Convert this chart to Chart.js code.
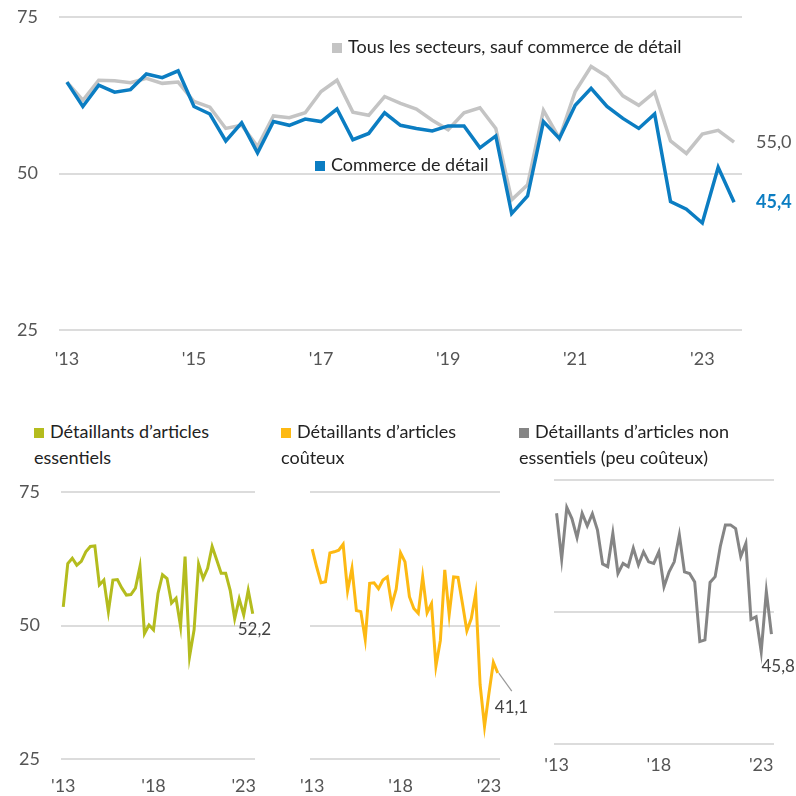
<!DOCTYPE html>
<html lang="fr">
<head>
<meta charset="utf-8">
<title>Commerce de détail</title>
<script src="https://cdn.jsdelivr.net/npm/chart.js@4.4.1/dist/chart.umd.min.js"></script>
<style>
  html, body { margin: 0; padding: 0; background: #fff; }
  #page { position: relative; width: 796px; height: 796px; overflow: hidden; font-family: Lato, sans-serif; color: #222; }
  canvas { position: absolute; }
  .leg { position: absolute; white-space: nowrap; line-height: 26px; }
  .sq { display: inline-block; width: 10px; height: 10px; margin-right: 6px; vertical-align: 0; }
</style>
</head>
<body>
<div id="page">
  <canvas id="principal" width="796" height="380" style="left:0;top:0"></canvas>
  <canvas id="p1" width="285" height="326" style="left:0;top:470px"></canvas>
  <canvas id="p2" width="275" height="326" style="left:265px;top:470px"></canvas>
  <canvas id="p3" width="276" height="338" style="left:520px;top:458px"></canvas>

  <div class="leg" style="left:332px;top:33px;font-size:18px"><span class="sq" style="background:#c4c4c4"></span>Tous les secteurs, sauf commerce de détail</div>
  <div class="leg" style="left:315px;top:151px;font-size:18px"><span class="sq" style="background:#0b7dc2"></span>Commerce de détail</div>
  <div class="leg" style="left:34px;top:418px;font-size:18px"><span class="sq" style="background:#b4bc1e"></span>Détaillants d’articles<br>essentiels</div>
  <div class="leg" style="left:281px;top:418px;font-size:18px"><span class="sq" style="background:#fdb913"></span>Détaillants d’articles<br>coûteux</div>
  <div class="leg" style="left:519px;top:418px;font-size:18px"><span class="sq" style="background:#858585"></span>Détaillants d’articles non<br>essentiels (peu coûteux)</div>
</div>

<script>
// Trimestres de 2013T1 à 2023T3
const trimestres = [
  '2013T1','2013T2','2013T3','2013T4','2014T1','2014T2','2014T3','2014T4',
  '2015T1','2015T2','2015T3','2015T4','2016T1','2016T2','2016T3','2016T4',
  '2017T1','2017T2','2017T3','2017T4','2018T1','2018T2','2018T3','2018T4',
  '2019T1','2019T2','2019T3','2019T4','2020T1','2020T2','2020T3','2020T4',
  '2021T1','2021T2','2021T3','2021T4','2022T1','2022T2','2022T3','2022T4',
  '2023T1','2023T2','2023T3'
];

// Graphique principal
const commerceDetail = [
  64.6, 60.7, 64.1, 63.0, 63.4, 65.9, 65.3, 66.4, 60.7, 59.5, 55.2, 58.1, 53.3, 58.3, 57.7,
  58.7, 58.3, 60.3, 55.4, 56.4, 59.7, 57.7, 57.2, 56.8, 57.6, 57.6, 54.1, 56.0, 43.6,
  46.4, 58.3, 55.6, 60.9, 63.6, 60.7, 58.8, 57.2, 59.5, 45.5, 44.3, 42.1, 51.0, 45.4
];
const autresSecteurs = [
  64.6, 61.7, 64.9, 64.8, 64.5, 65.2, 64.4, 64.6, 61.5, 60.6, 57.2, 57.7, 54.3, 59.2, 58.9,
  59.7, 63.1, 64.9, 59.8, 59.3, 62.3, 61.2, 60.3, 58.5, 57.0, 59.7, 60.5, 57.2, 45.8,
  48.2, 60.1, 55.6, 63.1, 67.1, 65.5, 62.4, 60.9, 63.0, 55.2, 53.2, 56.3, 56.9, 55.0
];

// Petits graphiques
const articlesEssentiels = [
  53.5, 61.6, 62.6, 61.3, 62.0, 63.8, 64.8, 64.9, 57.6, 58.5, 52.6, 58.5, 58.6, 57.0, 55.7,
  55.8, 57.0, 61.0, 48.5, 50.1, 49.2, 56.0, 59.5, 58.8, 54.2, 55.1, 49.8, 62.9, 44.2,
  49.2, 61.5, 58.8, 60.7, 64.8, 62.3, 59.8, 59.8, 56.6, 51.3, 55.0, 52.0, 56.6, 52.2
];
const articlesCouteux = [
  64.3, 61.0, 58.0, 58.2, 63.6, 63.8, 64.1, 65.2, 56.5, 60.7, 52.8, 52.6, 47.4, 57.9, 58.0,
  56.9, 58.5, 59.1, 53.8, 56.8, 63.6, 61.9, 55.4, 53.2, 52.3, 59.1, 52.4, 54.1, 42.4,
  47.2, 60.4, 52.0, 59.1, 59.0, 54.1, 49.0, 51.3, 56.0, 38.9, 31.1, 37.3, 43.1, 41.1
];
const articlesNonEssentiels = [
  68.7, 60.0, 69.8, 67.7, 64.1, 68.7, 66.3, 68.6, 65.5, 59.1, 58.6, 64.9, 57.3, 59.2, 58.6,
  62.1, 58.9, 61.4, 59.5, 59.2, 61.4, 54.8, 57.6, 59.5, 64.6, 57.6, 57.3, 55.7, 44.4,
  44.7, 55.6, 56.7, 62.4, 66.5, 66.5, 65.8, 60.5, 63.0, 48.6, 49.1, 42.5, 53.9, 45.8
];

Chart.defaults.font.family = 'Lato, sans-serif';
Chart.defaults.font.size = 18;
Chart.defaults.color = '#555';

// Étiquette de la dernière valeur de chaque série
const etiquetteFin = {
  id: 'etiquetteFin',
  afterDatasetsDraw(chart, args, opts) {
    const ctx = chart.ctx;
    (opts.items || []).forEach(it => {
      const meta = chart.getDatasetMeta(it.dataset);
      const pt = meta.data[meta.data.length - 1];
      const valeurs = chart.data.datasets[it.dataset].data;
      const texte = valeurs[valeurs.length - 1].toFixed(1).replace('.', ',');
      ctx.save();
      if (it.trait) {
        ctx.strokeStyle = '#999';
        ctx.lineWidth = 1.2;
        ctx.beginPath();
        ctx.moveTo(pt.x + it.trait[0], pt.y + it.trait[1]);
        ctx.lineTo(pt.x + it.trait[2], pt.y + it.trait[3]);
        ctx.stroke();
      }
      ctx.font = (it.gras ? 'bold ' : '') + it.taille + 'px Lato, sans-serif';
      ctx.fillStyle = it.couleur;
      ctx.textAlign = 'left';
      ctx.textBaseline = 'middle';
      ctx.fillText(texte, pt.x + it.dx, pt.y + it.dy);
      ctx.restore();
    });
  }
};

function axeY(largeur, montrer) {
  return {
    min: 25, max: 75,
    afterFit: s => {
      s.width = largeur;
      // pas de marge ajoutée pour les étiquettes : la zone est réglée par layout.padding
      s.paddingTop = 0;
      s.paddingBottom = 0;
    },
    border: { display: false },
    grid: { color: '#dcdcdc', lineWidth: 2, drawTicks: false },
    ticks: { stepSize: 25, padding: 21, display: montrer }
  };
}

function axeX(hauteur, pad, annees) {
  return {
    offset: true,
    afterFit: s => { s.height = hauteur; },
    border: { display: false },
    grid: { display: false },
    ticks: {
      autoSkip: false, maxRotation: 0, padding: pad,
      callback: function (v, i) {
        const t = trimestres[i];
        const an = t.slice(2, 4);
        return (t.endsWith('T1') && annees.includes(an)) ? "'" + an : '';
      }
    }
  };
}

// Graphique principal
new Chart(document.getElementById('principal'), {
  type: 'line',
  data: {
    labels: trimestres,
    datasets: [
      { label: 'Commerce de détail', data: commerceDetail, borderColor: '#0b7dc2', borderWidth: 3.5, pointRadius: 0, order: 0 },
      { label: 'Tous les secteurs, sauf commerce de détail', data: autresSecteurs, borderColor: '#c4c4c4', borderWidth: 3.5, pointRadius: 0, order: 1 }
    ]
  },
  options: {
    responsive: false, devicePixelRatio: 1, animation: false,
    layout: { padding: { top: 17, right: 54, left: 0, bottom: 0 } },
    plugins: {
      legend: { display: false }, tooltip: { enabled: false },
      etiquetteFin: { items: [
        { dataset: 1, dx: 22, dy: 0, couleur: '#555', taille: 18 },
        { dataset: 0, dx: 22, dy: 0, couleur: '#0b7dc2', taille: 18, gras: true }
      ] }
    },
    scales: {
      x: axeX(50, 10, ['13', '15', '17', '19', '21', '23']),
      y: axeY(59, true)
    }
  },
  plugins: [etiquetteFin]
});

// Petits graphiques
function panneau(id, serie, couleur, cfg) {
  new Chart(document.getElementById(id), {
    type: 'line',
    data: {
      labels: trimestres,
      datasets: [{ data: serie, borderColor: couleur, borderWidth: 3, pointRadius: 0 }]
    },
    options: {
      responsive: false, devicePixelRatio: 1, animation: false,
      layout: { padding: { top: cfg.haut, right: cfg.droite, left: 0, bottom: 0 } },
      plugins: {
        legend: { display: false }, tooltip: { enabled: false },
        etiquetteFin: { items: [cfg.etiquette] }
      },
      scales: {
        x: axeX(cfg.hauteurX, cfg.padX, ['13', '18', '23']),
        y: axeY(cfg.gauche, cfg.montrerY)
      }
    },
    plugins: [etiquetteFin]
  });
}

panneau('p1', articlesEssentiels, '#b4bc1e', {
  haut: 22, gauche: 61, droite: 30, montrerY: true, hauteurX: 37, padX: 8,
  etiquette: { dataset: 0, dx: -15, dy: 16, couleur: '#444', taille: 17 }
});
panneau('p2', articlesCouteux, '#fdb913', {
  haut: 22, gauche: 45, droite: 40, montrerY: false, hauteurX: 37, padX: 8,
  etiquette: { dataset: 0, dx: -3, dy: 34, couleur: '#444', taille: 17, trait: [1, 0, 14, 18] }
});
panneau('p3', articlesNonEssentiels, '#858585', {
  haut: 22, gauche: 34, droite: 22, montrerY: false, hauteurX: 52, padX: 2,
  etiquette: { dataset: 0, dx: -10, dy: 32, couleur: '#444', taille: 17 }
});
</script>
</body>
</html>
